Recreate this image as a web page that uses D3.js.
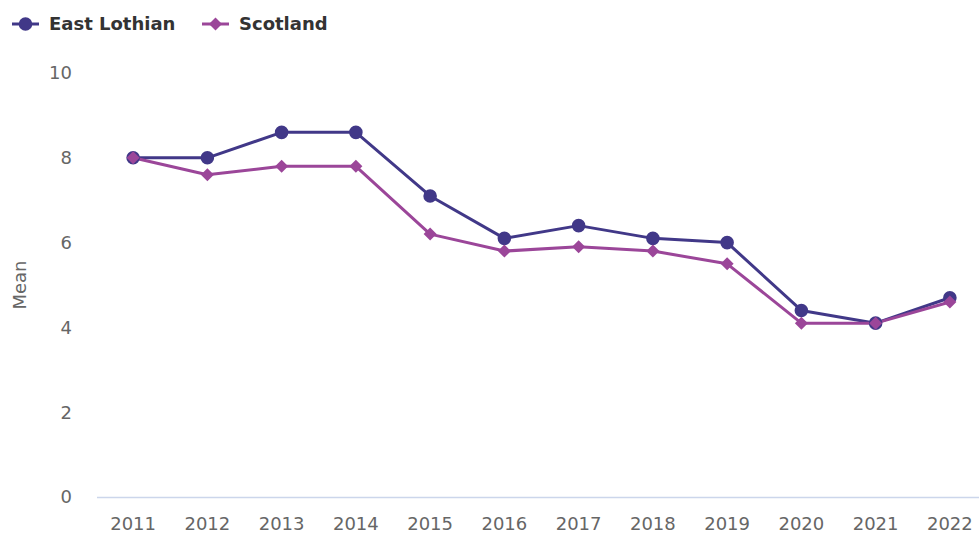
<!DOCTYPE html>
<html><head><meta charset="utf-8">
<script src="https://cdn.jsdelivr.net/npm/d3@7"></script>
<style>
html,body{margin:0;padding:0;background:#fff;}
svg{display:block;font-family:"DejaVu Sans",sans-serif;}
</style></head>
<body>
<svg id="chart" width="979" height="534"></svg>
<script>
const years = ["2011","2012","2013","2014","2015","2016","2017","2018","2019","2020","2021","2022"];
const eastLothian = [8.0,8.0,8.6,8.6,7.1,6.1,6.4,6.1,6.0,4.4,4.1,4.7];
const scotland = [8.0,7.6,7.8,7.8,6.2,5.8,5.9,5.8,5.5,4.1,4.1,4.6];
const yTicks = [0,2,4,6,8,10];
const seriesNames = ["East Lothian","Scotland"];
const seriesColors = ["#413888","#9b4699"];

const svg = d3.select("#chart");
const x = d3.scalePoint().domain(years).range([96,987]).padding(0.5);
const y = d3.scaleLinear().domain([0,10]).range([497,73]);

// x axis line
svg.append("line").attr("x1",97).attr("x2",979).attr("y1",497.5).attr("y2",497.5)
  .attr("stroke","#ccd6eb").attr("stroke-width",1.5);

// y tick labels
svg.append("g").selectAll("text").data(yTicks).join("text")
  .attr("x",72).attr("y",d=>y(d)).attr("dy","0.35em").attr("text-anchor","end")
  .attr("fill","#666").attr("font-size",18).text(d=>d);

// x tick labels
svg.append("g").selectAll("text").data(years).join("text")
  .attr("x",d=>x(d)).attr("y",530).attr("text-anchor","middle")
  .attr("fill","#666").attr("font-size",18).text(d=>d);

// y axis title
svg.append("text").attr("transform","translate(26,285) rotate(-90)")
  .attr("text-anchor","middle").attr("fill","#666").attr("font-size",18).text("Mean");

const data = [eastLothian, scotland];
const line = d3.line().x((d,i)=>x(years[i])).y(d=>y(d));
const r = 6.8, dr = 6.5;
const circlePath = d3.symbol().type(d3.symbolCircle).size(Math.PI*r*r)();
const diamondPath = `M0,${-dr}L${dr},0L0,${dr}L${-dr},0Z`;

data.forEach((vals,si)=>{
  svg.append("path").datum(vals).attr("d",line).attr("fill","none")
    .attr("stroke",seriesColors[si]).attr("stroke-width",3).attr("stroke-linejoin","round");
});
data.forEach((vals,si)=>{
  svg.append("g").selectAll("path").data(vals).join("path")
    .attr("transform",(d,i)=>`translate(${x(years[i])},${y(d)})`)
    .attr("d", si===0 ? circlePath : diamondPath)
    .attr("fill",seriesColors[si]);
});

// legend
const legendX = [12, 202];
seriesNames.forEach((name,si)=>{
  const g = svg.append("g").attr("transform",`translate(${legendX[si]},24)`);
  g.append("line").attr("x1",0).attr("x2",27).attr("y1",0).attr("y2",0)
    .attr("stroke",seriesColors[si]).attr("stroke-width",3);
  g.append("path").attr("transform","translate(13.5,0)")
    .attr("d", si===0 ? circlePath : diamondPath).attr("fill",seriesColors[si]);
  g.append("text").attr("x",37).attr("y",0).attr("dy","0.35em")
    .attr("font-size",18).attr("font-weight","bold").attr("fill","#333").text(name);
});
</script>
</body></html>
